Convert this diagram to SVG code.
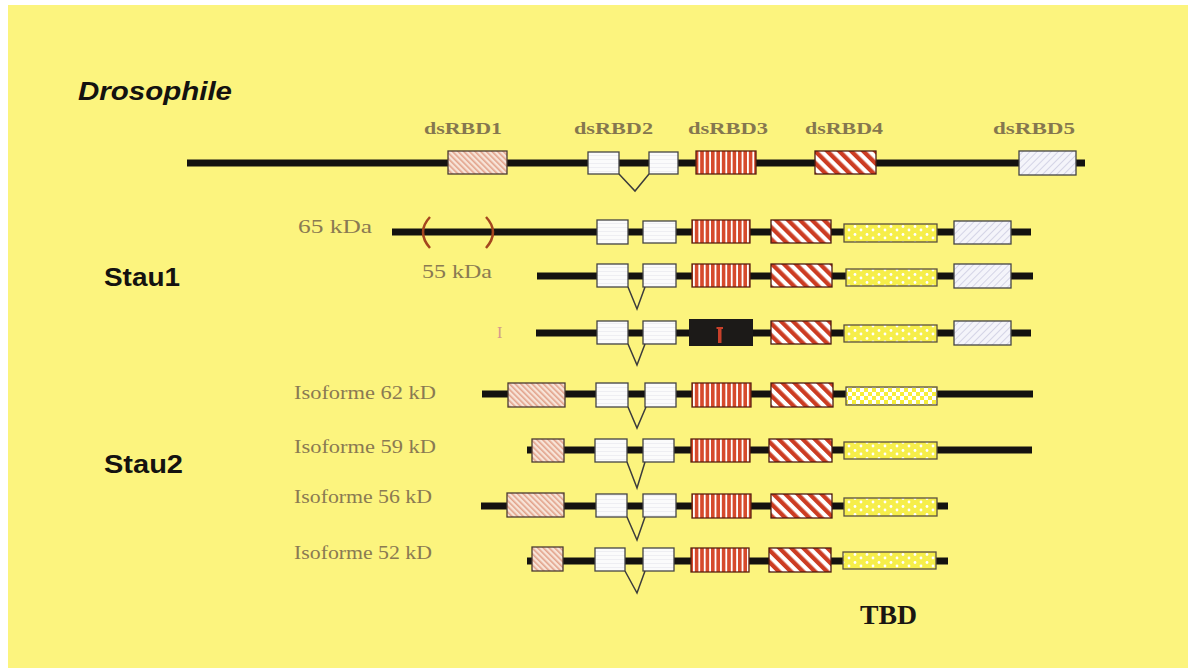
<svg xmlns="http://www.w3.org/2000/svg" width="1188" height="668" viewBox="0 0 1188 668">
<defs>
<style>
.ln{stroke:#141210;stroke-width:7;stroke-linecap:butt}
.bx{stroke:#4a3a30;stroke-width:1.3}
.wb{fill:url(#pWhite);stroke:#444;stroke-width:1.3}
.pk{fill:url(#pPink)}
.vs{fill:url(#pVert);stroke:#5a2010;stroke-width:1.3}
.dg{fill:url(#pDiag);stroke:#4a1a10;stroke-width:1.3}
.yd{fill:url(#pDots);stroke:#5a5040;stroke-width:1.3}
.yc{fill:url(#pCheck);stroke:#5a5040;stroke-width:1.3}
.lv{fill:url(#pLav);stroke:#444;stroke-width:1.3}
.v{fill:none;stroke:#3c3c3c;stroke-width:1.5}
.lab{font-family:"Liberation Serif","Times New Roman",serif;fill:#8a7a52}
.dl{font-family:"Liberation Serif","Times New Roman",serif;fill:#85774f;font-weight:bold;font-size:17px}
.big{font-family:"Liberation Sans",Arial,sans-serif;font-weight:bold;fill:#141210}
</style>
<pattern id="pWhite" patternUnits="userSpaceOnUse" width="6" height="4">
<rect width="6" height="4" fill="#fbfbfb"/>
<rect y="3" width="6" height="0.6" fill="#e6e6ec"/>
</pattern>
<pattern id="pPink" patternUnits="userSpaceOnUse" width="4" height="4" patternTransform="rotate(-45)">
<rect width="4" height="4" fill="#f7e4d8"/>
<rect width="1.6" height="4" fill="#e2a28a"/>
</pattern>
<pattern id="pVert" patternUnits="userSpaceOnUse" width="5.4" height="10">
<rect width="5.4" height="10" fill="#d64a2c"/>
<rect x="1.8" width="1.8" height="10" fill="#ffffff"/>
</pattern>
<pattern id="pDiag" patternUnits="userSpaceOnUse" width="8.5" height="8.5" patternTransform="rotate(-45)">
<rect width="8.5" height="8.5" fill="#ffffff"/>
<rect width="4.3" height="8.5" fill="#cc3c22"/>
</pattern>
<pattern id="pDots" patternUnits="userSpaceOnUse" width="12" height="8">
<rect width="12" height="8" fill="#f6ee4a"/>
<circle cx="3" cy="2.5" r="1.4" fill="#ffffff"/>
<circle cx="9" cy="6" r="1.4" fill="#ffffff"/>
</pattern>
<pattern id="pCheck" patternUnits="userSpaceOnUse" width="8" height="8">
<rect width="8" height="8" fill="#f6ee3a"/>
<rect width="4" height="4" fill="#ffffff"/>
<rect x="4" y="4" width="4" height="4" fill="#ffffff"/>
</pattern>
<pattern id="pLav" patternUnits="userSpaceOnUse" width="5" height="5" patternTransform="rotate(45)">
<rect width="5" height="5" fill="#f4f4fa"/>
<rect width="1" height="5" fill="#d4d4e6"/>
</pattern>
</defs>
<rect width="1188" height="668" fill="#ffffff"/>
<rect x="8" y="5" width="1180" height="663" fill="#fcf47e"/>

<g id="titles">
<text class="big" x="78" y="100" font-size="25" font-style="italic" textLength="154" lengthAdjust="spacingAndGlyphs">Drosophile</text>
<text class="big" x="104" y="286" font-size="25" textLength="76" lengthAdjust="spacingAndGlyphs">Stau1</text>
<text class="big" x="104" y="473" font-size="25" textLength="79" lengthAdjust="spacingAndGlyphs">Stau2</text>
<text x="860" y="624" font-family="Liberation Serif, Times New Roman, serif" font-weight="bold" font-size="28" fill="#1a1612" textLength="57" lengthAdjust="spacingAndGlyphs">TBD</text>
</g>

<g id="domain-labels">
<text class="dl" x="424" y="134" textLength="78" lengthAdjust="spacingAndGlyphs">dsRBD1</text>
<text class="dl" x="574" y="134" textLength="79" lengthAdjust="spacingAndGlyphs">dsRBD2</text>
<text class="dl" x="688" y="134" textLength="80" lengthAdjust="spacingAndGlyphs">dsRBD3</text>
<text class="dl" x="805" y="134" textLength="78" lengthAdjust="spacingAndGlyphs">dsRBD4</text>
<text class="dl" x="993" y="134" textLength="82" lengthAdjust="spacingAndGlyphs">dsRBD5</text>
</g>

<g id="drosophile">
<line class="ln" x1="187" y1="163" x2="1085" y2="163"/>
<rect class="pk bx" x="448" y="151" width="59" height="23"/>
<rect class="wb" x="588" y="152" width="31" height="22"/>
<rect class="wb" x="649" y="152" width="29" height="22"/>
<rect class="vs" x="696" y="151" width="60" height="23"/>
<rect class="dg" x="815" y="151" width="61" height="23"/>
<rect class="lv" x="1019" y="151" width="57" height="24"/>
</g>

<g id="stau1-65">
<text class="lab" x="298" y="233" font-size="19" textLength="74" lengthAdjust="spacingAndGlyphs">65  kDa</text>
<line class="ln" x1="392" y1="232" x2="1031" y2="232"/>
<path d="M430 217 Q416 232 430 248" fill="none" stroke="#a4461e" stroke-width="2.5"/>
<path d="M486 217 Q500 232 486 248" fill="none" stroke="#a4461e" stroke-width="2.5"/>
<rect class="wb" x="597" y="220" width="31" height="24"/>
<rect class="wb" x="643" y="221" width="33" height="22"/>
<rect class="vs" x="692" y="220" width="58" height="23"/>
<rect class="dg" x="771" y="220" width="60" height="23"/>
<rect class="yd" x="844" y="224" width="93" height="18"/>
<rect class="lv" x="954" y="221" width="57" height="23"/>
</g>

<g id="stau1-55">
<text class="lab" x="422" y="278" font-size="19" textLength="70" lengthAdjust="spacingAndGlyphs">55  kDa</text>
<line class="ln" x1="537" y1="276" x2="1033" y2="276"/>
<rect class="wb" x="597" y="264" width="31" height="23"/>
<rect class="wb" x="643" y="264" width="33" height="23"/>
<rect class="vs" x="692" y="264" width="58" height="23"/>
<rect class="dg" x="771" y="264" width="61" height="23"/>
<rect class="yd" x="846" y="269" width="91" height="17"/>
<rect class="lv" x="954" y="264" width="57" height="24"/>
</g>

<g id="stau1-I">
<text x="497" y="338" font-family="Liberation Serif, Times New Roman, serif" font-size="16" fill="#d49a8c">I</text>
<line class="ln" x1="536" y1="333" x2="1031" y2="333"/>
<rect class="wb" x="597" y="321" width="31" height="23"/>
<rect class="wb" x="643" y="321" width="33" height="23"/>
<rect x="689" y="319" width="64" height="27" fill="#1c1a18"/>
<rect x="718" y="328" width="3.5" height="15" fill="#c8402a"/>
<rect x="716.5" y="327" width="6.5" height="2" fill="#c8402a"/>
<rect class="dg" x="771" y="321" width="60" height="23"/>
<rect class="yd" x="844" y="325" width="93" height="17"/>
<rect class="lv" x="954" y="321" width="57" height="24"/>
</g>

<g id="stau2-62">
<text class="lab" x="294" y="399" font-size="18" textLength="142" lengthAdjust="spacingAndGlyphs">Isoforme  62 kD</text>
<line class="ln" x1="482" y1="394" x2="1033" y2="394"/>
<rect class="pk bx" x="508" y="383" width="57" height="24"/>
<rect class="wb" x="596" y="383" width="32" height="24"/>
<rect class="wb" x="645" y="383" width="31" height="24"/>
<rect class="vs" x="692" y="383" width="59" height="24"/>
<rect class="dg" x="771" y="383" width="62" height="24"/>
<rect class="yc" x="846" y="387" width="91" height="18"/>
</g>

<g id="stau2-59">
<text class="lab" x="294" y="453" font-size="18" textLength="142" lengthAdjust="spacingAndGlyphs">Isoforme  59 kD</text>
<line class="ln" x1="527" y1="450" x2="1032" y2="450"/>
<rect class="pk bx" x="532" y="439" width="32" height="23"/>
<rect class="wb" x="595" y="439" width="32" height="23"/>
<rect class="wb" x="643" y="439" width="31" height="23"/>
<rect class="vs" x="691" y="439" width="59" height="23"/>
<rect class="dg" x="769" y="439" width="63" height="23"/>
<rect class="yd" x="844" y="442" width="93" height="17"/>
</g>

<g id="stau2-56">
<text class="lab" x="294" y="503" font-size="18" textLength="138" lengthAdjust="spacingAndGlyphs">Isoforme 56 kD</text>
<line class="ln" x1="481" y1="506" x2="948" y2="506"/>
<rect class="pk bx" x="507" y="493" width="57" height="24"/>
<rect class="wb" x="596" y="494" width="31" height="23"/>
<rect class="wb" x="643" y="494" width="33" height="23"/>
<rect class="vs" x="692" y="494" width="59" height="24"/>
<rect class="dg" x="771" y="494" width="61" height="24"/>
<rect class="yd" x="844" y="498" width="93" height="18"/>
</g>

<g id="stau2-52">
<text class="lab" x="294" y="559" font-size="18" textLength="138" lengthAdjust="spacingAndGlyphs">Isoforme 52 kD</text>
<line class="ln" x1="527" y1="561" x2="948" y2="561"/>
<rect class="pk bx" x="532" y="547" width="31" height="24"/>
<rect class="wb" x="595" y="548" width="30" height="23"/>
<rect class="wb" x="643" y="548" width="31" height="23"/>
<rect class="vs" x="691" y="548" width="58" height="24"/>
<rect class="dg" x="769" y="548" width="62" height="24"/>
<rect class="yd" x="843" y="552" width="93" height="17"/>
</g>

<g id="connectors">
<polyline class="v" points="619,174 635,191 649,174"/>
<polyline class="v" points="628,287 637,309 645,287"/>
<polyline class="v" points="628,344 637,365 645,344"/>
<polyline class="v" points="628,407 637,428 646,407"/>
<polyline class="v" points="627,462 637,488 645,462"/>
<polyline class="v" points="627,517 637,540 645,517"/>
<polyline class="v" points="625,571 637,593 645,571"/>
</g>
</svg>
